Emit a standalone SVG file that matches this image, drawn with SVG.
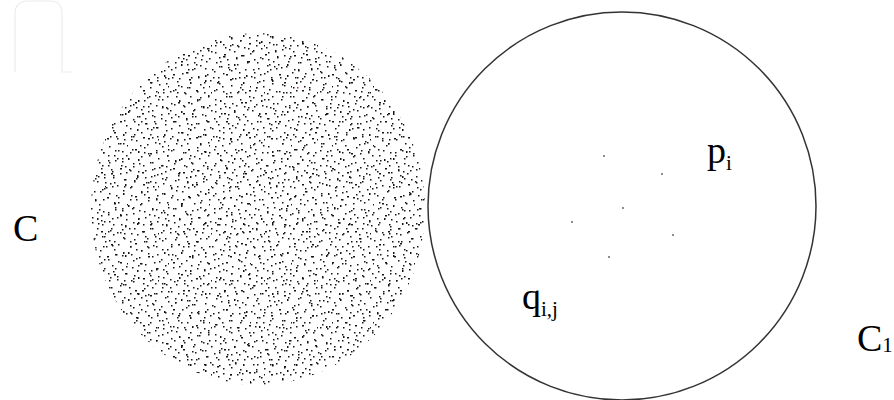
<svg xmlns="http://www.w3.org/2000/svg" width="894" height="400" viewBox="0 0 894 400">
<style>
.t{font-family:"Liberation Serif","Times New Roman",serif;fill:#000}
.big{font-size:38px}
.sub{font-size:21px}
.d{fill:#151515}
.wm{fill:none;stroke:#ececec;stroke-width:1.2}
</style>
<defs>
<pattern id="pA" patternUnits="userSpaceOnUse" width="53" height="47">
<g class="d">
<rect x="3" y="5" width="1.5" height="1.5"/><rect x="17" y="2" width="1.5" height="1.5"/><rect x="29" y="8" width="2" height="1.5"/><rect x="41" y="3" width="1.5" height="1.5"/><rect x="50" y="11" width="1.5" height="1.5"/><rect x="8" y="14" width="1.5" height="1.5"/><rect x="22" y="17" width="1.5" height="2"/><rect x="35" y="15" width="1.5" height="1.5"/><rect x="46" y="21" width="1.5" height="1.5"/><rect x="2" y="24" width="1.5" height="1.5"/><rect x="14" y="27" width="2" height="1.5"/><rect x="27" y="25" width="1.5" height="1.5"/><rect x="39" y="29" width="1.5" height="1.5"/><rect x="51" y="33" width="1.5" height="1.5"/><rect x="7" y="36" width="1.5" height="1.5"/><rect x="19" y="38" width="1.5" height="1.5"/><rect x="31" y="35" width="1.5" height="2"/><rect x="44" y="40" width="1.5" height="1.5"/><rect x="11" y="44" width="1.5" height="1.5"/><rect x="25" y="45" width="1.5" height="1.5"/><rect x="37" y="43" width="2" height="1.5"/><rect x="49" y="1" width="1.5" height="1.5"/><rect x="12" y="9" width="1.5" height="1.5"/><rect x="33" y="22" width="1.5" height="1.5"/><rect x="6" y="30" width="1.5" height="1.5"/><rect x="42" y="12" width="1.5" height="1.5"/><rect x="20" y="31" width="1.5" height="1.5"/><rect x="48" y="27" width="1.5" height="1.5"/><rect x="28" y="40" width="1.5" height="1.5"/><rect x="16" y="20" width="1.5" height="1.5"/><rect x="38" y="6" width="1.5" height="1.5"/><rect x="24" y="11" width="1.5" height="1.5"/><rect x="4" y="42" width="1.5" height="1.5"/><rect x="45" y="35" width="1.5" height="1.5"/><rect x="32" y="30" width="1.5" height="1.5"/><rect x="9" y="19" width="1.5" height="1.5"/><rect x="52" y="45" width="1" height="1.5"/><rect x="18" y="45" width="1.5" height="1.5"/>
</g>
</pattern>
<pattern id="pB" patternUnits="userSpaceOnUse" width="41" height="59" x="5" y="7">
<g class="d">
<rect x="2" y="3" width="1.5" height="1.5"/><rect x="13" y="7" width="1.5" height="1.5"/><rect x="25" y="2" width="1.5" height="1.5"/><rect x="36" y="9" width="1.5" height="2"/><rect x="8" y="15" width="1.5" height="1.5"/><rect x="20" y="13" width="2" height="1.5"/><rect x="31" y="18" width="1.5" height="1.5"/><rect x="4" y="24" width="1.5" height="1.5"/><rect x="16" y="27" width="1.5" height="1.5"/><rect x="28" y="25" width="1.5" height="1.5"/><rect x="39" y="30" width="1.5" height="1.5"/><rect x="10" y="34" width="1.5" height="2"/><rect x="22" y="37" width="1.5" height="1.5"/><rect x="34" y="40" width="1.5" height="1.5"/><rect x="1" y="44" width="1.5" height="1.5"/><rect x="14" y="47" width="2" height="1.5"/><rect x="26" y="50" width="1.5" height="1.5"/><rect x="37" y="54" width="1.5" height="1.5"/><rect x="6" y="55" width="1.5" height="1.5"/><rect x="18" y="57" width="1.5" height="1.5"/><rect x="30" y="33" width="1.5" height="1.5"/><rect x="40" y="20" width="1" height="1.5"/><rect x="12" y="20" width="1.5" height="1.5"/><rect x="24" y="44" width="1.5" height="1.5"/><rect x="33" y="48" width="1.5" height="1.5"/><rect x="5" y="38" width="1.5" height="1.5"/><rect x="19" y="3" width="1.5" height="1.5"/><rect x="29" y="11" width="1.5" height="1.5"/><rect x="38" y="41" width="1.5" height="1.5"/><rect x="9" y="50" width="1.5" height="1.5"/><rect x="21" y="30" width="1.5" height="1.5"/><rect x="35" y="26" width="1.5" height="1.5"/><rect x="15" y="40" width="1.5" height="1.5"/><rect x="27" y="57" width="1.5" height="1.5"/><rect x="3" y="11" width="1.5" height="1.5"/><rect x="17" y="52" width="1.5" height="1.5"/>
</g>
</pattern>
<pattern id="pC" patternUnits="userSpaceOnUse" width="67" height="71" x="11" y="3">
<g class="d">
<rect x="5" y="8" width="2" height="1.5"/><rect x="23" y="4" width="1.5" height="1.5"/><rect x="44" y="13" width="1.5" height="1.5"/><rect x="60" y="6" width="1.5" height="2"/><rect x="14" y="22" width="1.5" height="1.5"/><rect x="33" y="28" width="2" height="1.5"/><rect x="52" y="25" width="1.5" height="1.5"/><rect x="3" y="37" width="1.5" height="1.5"/><rect x="26" y="43" width="1.5" height="1.5"/><rect x="47" y="39" width="1.5" height="2"/><rect x="63" y="47" width="1.5" height="1.5"/><rect x="11" y="53" width="1.5" height="1.5"/><rect x="36" y="58" width="2" height="1.5"/><rect x="55" y="62" width="1.5" height="1.5"/><rect x="19" y="67" width="1.5" height="1.5"/><rect x="42" y="69" width="1.5" height="1.5"/><rect x="7" y="63" width="1.5" height="1.5"/><rect x="58" y="33" width="1.5" height="1.5"/><rect x="30" y="15" width="1.5" height="1.5"/><rect x="17" y="33" width="1.5" height="1.5"/>
</g>
</pattern>
</defs>
<rect width="894" height="400" fill="#fff"/>
<path class="wm" d="M15,72 V14 Q15,1 28,1 H50 Q62,1 62,14 V72 H72"/>
<g id="C">
<ellipse cx="258" cy="209" rx="167" ry="176" fill="url(#pA)"/>
<ellipse cx="258" cy="209" rx="167" ry="176" fill="url(#pB)"/>
<ellipse cx="258" cy="209" rx="167" ry="176" fill="url(#pC)"/>
<rect x="297" y="87" width="1.5" height="1.5" fill="#e02020"/>
<text class="t big" x="13" y="241">C</text>
</g>
<g id="C1">
<circle cx="622" cy="206" r="194" fill="none" stroke="#333" stroke-width="1.5"/>
<g fill="#555">
<circle cx="604" cy="156" r="0.9"/><circle cx="662" cy="174" r="0.9"/><circle cx="623" cy="208" r="0.9"/><circle cx="572" cy="222" r="0.9"/><circle cx="673" cy="235" r="0.9"/><circle cx="609" cy="257" r="0.9"/>
</g>
<text class="t big" x="857" y="351">C<tspan class="sub" dy="1">1</tspan></text>
</g>
<g id="pi">
<text class="t big" x="707" y="163">p<tspan class="sub" dy="7">i</tspan></text>
</g>
<g id="qij">
<text class="t big" x="522" y="309">q<tspan class="sub" dy="7">i,j</tspan></text>
</g>
</svg>
